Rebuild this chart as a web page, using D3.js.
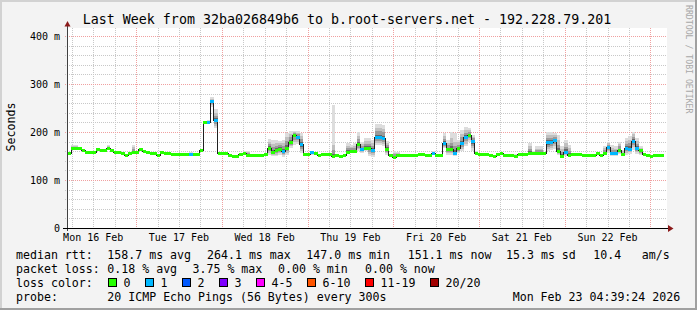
<!DOCTYPE html>
<html>
<head>
<meta charset="utf-8">
<script src="https://cdn.jsdelivr.net/npm/d3@7"></script>
<style>
  body { margin: 0; background: #f3f3f3; }
  text { font-family: "DejaVu Sans Mono", monospace; }
</style>
</head>
<body>
<svg width="697" height="310"></svg>
<script>
// ---- data (hourly consolidated points) ----
var median = [155,165,165,166.5,161,158,158,158,164,162,
162,166,162,158,158,156,152,155,158,158,
164,160,158,156,156,152,157,155,155,152.6,
152.6,152.6,152.6,152.6,152.6,152.6,152.6,161,219,219,
264.1,224,155,155,155,152,148,148,153,155,
152,152,150.5,150.5,150.5,153,166,157,161,164,
160,166.5,179,193,189.5,173.5,152.6,152.6,157.5,155,
150.5,152.6,152.6,152.6,148,150.5,148,150.5,158,159.5,
159.5,173,163,166.5,165,161.5,188.5,188.5,186,164,
151.4,147,150.5,150.5,150.5,150.5,150.5,150.5,154,154,
150.5,150.5,155.4,151,151,175.6,163,163,156,165,
175.6,189,192,180.5,155,152.6,152.6,152.6,150.5,148,
152.6,155.4,150.5,150.5,150.5,148,152.6,152.6,152.6,156,
154.7,154.7,154.7,154.7,177.8,177.8,182.6,159.5,149,158,
150.5,154,152.6,152.6,150.5,150.5,150.5,150.5,156,150.5,
156,168,155,155,161.5,152.6,166,164,181,165,
161,152.6,150.5,148,151.1,151.1,151.1];

var lost = [0,0,0,0,0,0,0,0,0,0,
0,0,0,0,0,0,0,0,0,0,
0,0,0,0,0,0,0,0,0,0,
0,0,0,0,1,0,0,0,0,1,
1,1,0,0,0,0,0,0,0,0,
0,0,0,0,0,0,0,0,0,0,
1,0,0,0,1,1,0,0,1,0,
0,0,0,0,0,0,0,0,0,0,
0,0,1,0,0,1,1,1,1,0,
0,0,0,0,0,0,0,0,0,0,
0,0,1,0,0,1,0,0,1,0,
1,1,0,1,0,0,0,0,0,0,
0,0,0,0,0,0,0,0,0,0,
0,0,0,0,1,1,1,0,0,1,
0,0,0,0,0,0,0,0,0,0,
0,1,1,1,0,0,1,1,1,1,
0,0,0,0,0,0,0];

var smokeHi = [157,172,172,168,163,160,160,160,166,164,
164,172,164,160,160,158,154,157,172,160,
166,162,160,158,158,154,160,159,157,155,
155,155,155,155,158,157,155,164,222,224,
272,247,157,157,157,154,150,150,155,161,
161,154,153,153,153,155,186,184,184,182,
184,198,202,203,203,198,155.4,155,160,157,
153,155,155,155,255.8,153,150,153,177,173.5,
177,201,180,187.5,187.5,184,216.7,216.7,215,182,
154,161,157.5,153,153,153,153,153,157,157,
153,153,159.5,153,153,198,184,201,198,184,
205,210,208,194,160,155,155,155,153,150,
155.4,158,153,153,155,155,155,155,155,177,
160,170,170,158,201,201,198,194,170,184,
173,157,155,155,153,153,153,153,159,153,
170,180,173,170,180,163,187,191,201,187,
170,155,153,150,153,153,153];

var smokeLo = [153,162,162,164,159,156,156,156,162,160,
160,164,160,156,156,154,150,153,155,156,
162,158,156,154,154,150,155,153,153,151,
151,151,151,151,151,151,151,159,217,216,
253,208,153,153,153,150,147,147,151,153,
150,150,149,149,149,151,152,149,149,152,
148,152,167,173,176,156,151,151,153,153,
149,151,151,151,147,149,147,149,156,157,
157,160,156,160,150,148,173.5,173.5,170,152.6,
150,146,149,149,149,149,149,149,152,152,
149,149,153,149.5,149.5,166,152,152,150,156,
160,170,180,160,153,151,151,151,149,147,
151,153,149,149,149,147,151,151,151,153,
153,153,153,153,160,163,165,152,148,151,
149,152,151,151,149,149,149,149,154,149,
154,156,150,150,154,150,153,155,163,155,
152,151,149,147,150,150,150];

var lossLabels = ["0","1","2","3","4-5","6-10","11-19","20/20"];
var lossColors = ["#26ff00","#00b8ff","#0059ff","#7e00ff","#ff00ff","#ff5500","#ff0000","#a10000"];
var yTicks = [0,100,200,300,400];
var rowLabels = ["median rtt:","packet loss:","loss color:","probe:"];
var rttStats = ["158.7 ms avg","264.1 ms max","147.0 ms min","151.1 ms now","15.3 ms sd","10.4","am/s"];
var lossStats = ["0.18 % avg","3.75 % max","0.00 % min","0.00 % now"];
var probeText = "20 ICMP Echo Pings (56 Bytes) every 300s";
var stampText = "Mon Feb 23 04:39:24 2026";
var title = "Last Week from 32ba026849b6 to b.root-servers.net - 192.228.79.201";

var tStart = new Date(2026,1,16,4,39,24);
var tEnd = new Date(2026,1,23,4,39,24);
var dataStart = new Date(2026,1,16,4,48,0);

// ---- layout ----
var svg = d3.select("svg");
var W = 697, H = 310;
var pl = 67, pr = 667, pt = 28, pb = 228;

var x = d3.scaleTime().domain([tStart, tEnd]).range([pl, pr]);
var y = d3.scaleLinear().domain([0, 200 / 0.48]).range([pb, pt]);

// background + 3d frame
svg.append("rect").attr("width", W).attr("height", H).attr("fill", "#f3f3f3");
svg.append("path").attr("d", "M0,0H697V2H2V310H0Z").attr("fill", "#d2d2d2");
svg.append("path").attr("d", "M697,0V310H0V308H695V0Z").attr("fill", "#a0a0a0");

svg.append("rect").attr("x", pl).attr("y", pt)
  .attr("width", pr - pl).attr("height", pb - pt).attr("fill", "#fff");

// grid
var grid = svg.append("g").attr("stroke-width", 1).attr("stroke-dasharray", "1,1")
  .attr("shape-rendering", "crispEdges");
var minorY = d3.range(20, 401, 20).filter(function(v){ return v % 100 !== 0; });
grid.selectAll("line.hm").data(minorY).enter().append("line")
  .attr("x1", pl - 2).attr("x2", pr)
  .attr("y1", function(d){ return Math.round(y(d)) + 0.5; })
  .attr("y2", function(d){ return Math.round(y(d)) + 0.5; })
  .attr("stroke", "#c8c8c8");
var sixHours = d3.timeHour.every(6).range(tStart, tEnd).filter(function(d){ return d.getHours() !== 0; });
grid.selectAll("line.vm").data(sixHours).enter().append("line")
  .attr("x1", function(d){ return Math.round(x(d)) + 0.5; })
  .attr("x2", function(d){ return Math.round(x(d)) + 0.5; })
  .attr("y1", pt).attr("y2", pb + 2)
  .attr("stroke", "#c8c8c8");
grid.selectAll("line.hM").data(yTicks.filter(function(v){ return v > 0; })).enter().append("line")
  .attr("x1", pl - 2).attr("x2", pr)
  .attr("y1", function(d){ return Math.round(y(d)) + 0.5; })
  .attr("y2", function(d){ return Math.round(y(d)) + 0.5; })
  .attr("stroke", "#f0a0a0");
grid.selectAll("line.vM").data(d3.timeDay.range(tStart, tEnd)).enter().append("line")
  .attr("x1", function(d){ return Math.round(x(d)) + 0.5; })
  .attr("x2", function(d){ return Math.round(x(d)) + 0.5; })
  .attr("y1", pt).attr("y2", pb + 2)
  .attr("stroke", "#f0a0a0");

// points
var pts = median.map(function(m, i){
  return { t: d3.timeHour.offset(dataStart, i), m: m, hi: smokeHi[i], lo: smokeLo[i], loss: lost[i] };
});
var ptsExt = pts.concat([Object.assign({}, pts[pts.length - 1], { t: d3.timeHour.offset(dataStart, pts.length) })]);

// smoke: lighter far from the median, darker close to it
var bands = [[1, 200, "#dddddd"], [0.7, 24, "#c0c0c0"], [0.45, 14, "#9a9a9a"], [0.22, 7, "#666666"]];
bands.forEach(function(b){
  var area = d3.area().curve(d3.curveStepAfter)
    .x(function(d){ return x(d.t); })
    .y0(function(d){ return y(d.m - Math.min(b[1], b[0] * (d.m - d.lo))); })
    .y1(function(d){ return y(d.m + Math.min(b[1], b[0] * (d.hi - d.m))); });
  svg.append("path").datum(ptsExt).attr("d", area).attr("fill", b[2])
    .attr("shape-rendering", "crispEdges");
});

// median
var medLine = d3.line().curve(d3.curveStepAfter)
  .x(function(d){ return x(d.t); })
  .y(function(d){ return y(d.m); });
svg.append("path").datum(ptsExt).attr("d", medLine)
  .attr("fill", "none").attr("stroke", "#202020").attr("stroke-width", 1)
  .attr("shape-rendering", "crispEdges");

svg.append("g").selectAll("rect").data(pts).enter().append("rect")
  .attr("x", function(d){ return x(d.t); })
  .attr("width", function(d){ return x(d3.timeHour.offset(d.t, 1)) - x(d.t); })
  .attr("y", function(d){ return y(d.m) - 1.5; })
  .attr("height", 3)
  .attr("fill", function(d){ return lossColors[d.loss]; })
  .attr("shape-rendering", "crispEdges");

// axes
svg.append("line").attr("x1", pl + 0.5).attr("x2", pl + 0.5).attr("y1", pb + 3).attr("y2", 24)
  .attr("stroke", "#404040");
svg.append("line").attr("x1", pl - 4).attr("x2", pr + 2).attr("y1", pb + 0.5).attr("y2", pb + 0.5)
  .attr("stroke", "#000");
svg.append("path").attr("d", "M64.5,26.5L67.5,21L70.5,26.5Z").attr("fill", "#8b1a1a");
svg.append("path").attr("d", "M668,225L673.5,228.5L668,232Z").attr("fill", "#8b1a1a");

// tick labels
svg.append("g").selectAll("text").data(yTicks).enter().append("text")
  .attr("x", 60).attr("y", function(d){ return y(d) + 3.6; })
  .attr("text-anchor", "end").attr("font-size", "10px")
  .text(function(d){ return d === 0 ? "0" : d + " m"; });

var fmt = d3.timeFormat("%a %d %b");
var noons = d3.timeDay.range(d3.timeDay.floor(tStart), tEnd)
  .map(function(d){ return d3.timeHour.offset(d, 12); })
  .filter(function(d){ return d < tEnd; });
svg.append("g").selectAll("text").data(noons).enter().append("text")
  .attr("x", function(d){ return x(d); }).attr("y", 241)
  .attr("text-anchor", "middle").attr("font-size", "10px")
  .text(function(d){ return fmt(d); });

// titles
svg.append("text").attr("x", 347).attr("y", 24).attr("text-anchor", "middle")
  .attr("font-size", "13.3px").text(title);
svg.append("text").attr("transform", "translate(15,127) rotate(-90)")
  .attr("text-anchor", "middle").attr("font-size", "11.6px").text("Seconds");
svg.append("text").attr("transform", "translate(685.5,5) rotate(90)")
  .attr("font-size", "8.2px").attr("fill", "#a8a8a8").text("RRDTOOL / TOBI OETIKER");

// legend
var fs = "11.6px";
var rowY = [258.5, 272.5, 286.5, 300.5];
var leg = svg.append("g").attr("font-size", fs).attr("xml:space", "preserve");
rowLabels.forEach(function(t, i){
  leg.append("text").attr("x", 16).attr("y", rowY[i]).text(t);
});
var rttCols = [107.3, 207, 306.3, 407.7, 506, 593.3, 641.7];
rttStats.forEach(function(t, i){
  leg.append("text").attr("x", rttCols[i]).attr("y", rowY[0]).text(t);
});
var lossCols = [107.3, 192.5, 278, 365];
lossStats.forEach(function(t, i){
  leg.append("text").attr("x", lossCols[i]).attr("y", rowY[1]).text(t);
});
var boxCols = [108.5, 145.5, 182.5, 219.5, 256.5, 307.5, 365.5, 430.5];
lossLabels.forEach(function(t, i){
  leg.append("rect").attr("x", boxCols[i]).attr("y", 278.5).attr("width", 8).attr("height", 8)
    .attr("fill", lossColors[i]).attr("stroke", "#000").attr("stroke-width", 1);
  leg.append("text").attr("x", boxCols[i] + 15).attr("y", rowY[2]).text(t);
});
leg.append("text").attr("x", 107.3).attr("y", rowY[3]).text(probeText);
leg.append("text").attr("x", 512.7).attr("y", rowY[3]).text(stampText);
</script>
</body>
</html>
